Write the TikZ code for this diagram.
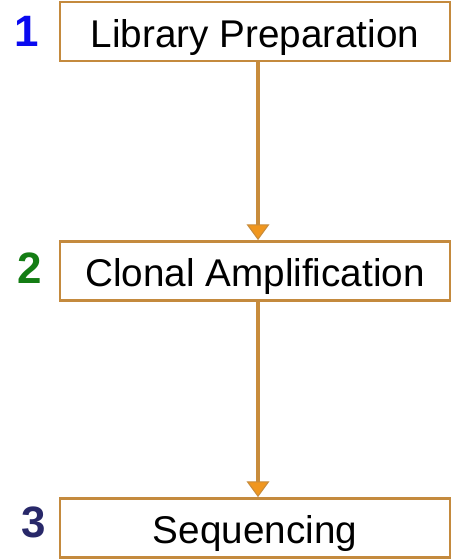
\documentclass[tikz,border=0pt]{standalone}
\usepackage{fontspec}
\setmainfont{Liberation Sans}
\usetikzlibrary{arrows.meta}
\definecolor{boxline}{RGB}{196,138,62}
\definecolor{arrowline}{RGB}{200,140,60}
\definecolor{arrowhead}{RGB}{240,150,30}
\definecolor{numone}{RGB}{10,10,240}
\definecolor{numtwo}{RGB}{20,125,20}
\definecolor{numthree}{RGB}{40,40,105}
\begin{document}
\begin{tikzpicture}[x=0.02cm,y=-0.02cm]
        \useasboundingbox (0,0) rectangle (455,560);
        \begin{scope}[every node/.style={rectangle,draw=boxline,line width=1.6pt,fill=white,
            minimum width=7.8cm,minimum height=1.18cm,inner sep=0pt,text height=18.2pt,text depth=0pt,
            font=\fontsize{22}{25}\selectfont}]
          \node (1) at (255,31.5) {Library Preparation};
          \node (2) at (255,271) {Clonal Amplification};
          \node (3) at (255,528) {Sequencing};
        \end{scope}
        \begin{scope}[every node/.style={font=\fontsize{25}{28}\selectfont\bfseries}]
          \node[text=numone] (n1) at (27,31) {1};
          \node[text=numtwo] (n2) at (30,268) {2};
          \node[text=numthree] (n3) at (34,522) {3};
        \end{scope}
        \begin{scope}[every edge/.style={draw=arrowline,line width=2.6pt,
            -{Triangle[width=13pt,length=9pt,fill=arrowhead,color=arrowline,line width=0.6pt]}}]
          \path ([xshift=0.06cm]1.south) edge ([xshift=0.06cm]2.north);
          \path ([xshift=0.06cm]2.south) edge ([xshift=0.06cm]3.north);
        \end{scope}
  		\end{tikzpicture}
\end{document}
